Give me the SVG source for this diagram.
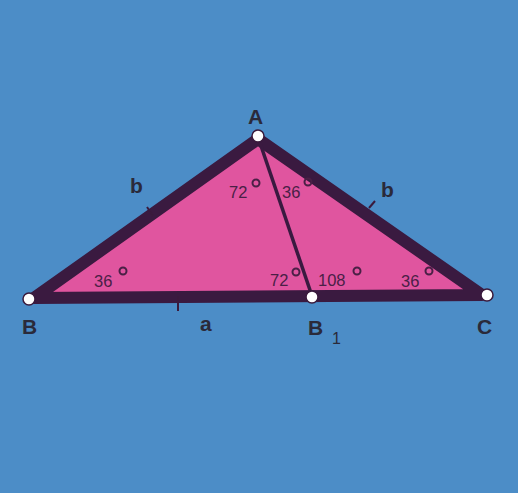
<svg xmlns="http://www.w3.org/2000/svg" width="518" height="493" viewBox="0 0 518 493">
<style>
.lbl{font-family:"Liberation Sans",Arial,sans-serif;font-weight:bold;fill:#2a2a3a;font-size:21px}
.ang{font-family:"Liberation Sans",Arial,sans-serif;fill:#4a2046;font-size:16.5px}
.deg{fill:none;stroke:#4a2046;stroke-width:2}
.dot{fill:#ffffff;stroke:#3a1a3c;stroke-width:1.5}
.tick{stroke:#3a1a3c;stroke-width:2}
</style>
<rect width="518" height="493" fill="#4c8dc7"/>
<g id="triangle">
<polygon points="258,139 34,298 482,295" fill="#e0559f" stroke="#3a1a40" stroke-width="12" stroke-linejoin="round"/>
</g>
<g id="connectors">
<line x1="258" y1="137" x2="312" y2="296" stroke="#3a1a40" stroke-width="3.5"/>
<line class="tick" x1="147" y1="207" x2="153" y2="216"/>
<line class="tick" x1="369" y1="208" x2="375" y2="201"/>
<line class="tick" x1="178" y1="296" x2="178" y2="311"/>
</g>
<g id="A"><circle class="dot" cx="258" cy="136" r="6"/><text class="lbl" x="248" y="124">A</text></g>
<g id="B"><circle class="dot" cx="29" cy="299" r="6"/><text class="lbl" x="22" y="334">B</text></g>
<g id="C"><circle class="dot" cx="487" cy="295" r="6"/><text class="lbl" x="477" y="334">C</text></g>
<g id="B1"><circle class="dot" cx="312" cy="297" r="6"/><text class="lbl" x="308" y="335">B</text><text class="lbl" x="332" y="344" style="font-size:16px;font-weight:normal">1</text></g>
<g id="labels">
<text class="lbl" x="130" y="193">b</text>
<text class="lbl" x="381" y="197">b</text>
<text class="lbl" x="200" y="331">a</text>
<text class="ang" x="229" y="198">72</text><circle class="deg" cx="256" cy="183" r="3.5"/>
<text class="ang" x="282" y="198">36</text><circle class="deg" cx="308" cy="182" r="3.5"/>
<text class="ang" x="94" y="287">36</text><circle class="deg" cx="123" cy="271" r="3.5"/>
<text class="ang" x="270" y="286">72</text><circle class="deg" cx="296" cy="272" r="3.5"/>
<text class="ang" x="318" y="286">108</text><circle class="deg" cx="357" cy="271" r="3.5"/>
<text class="ang" x="401" y="287">36</text><circle class="deg" cx="429" cy="271" r="3.5"/>
</g>
</svg>
